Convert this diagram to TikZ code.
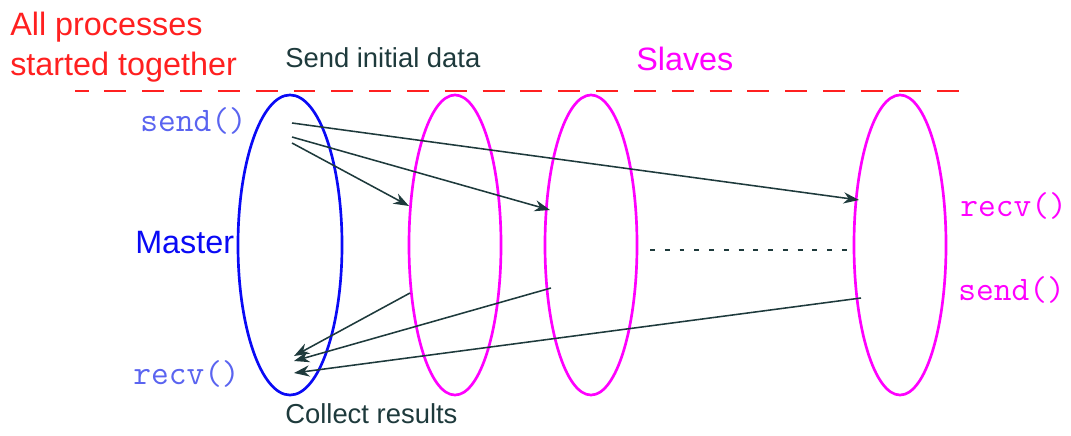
\documentclass[tikz,border=0pt]{standalone}
\usepackage{fontspec}
\setmainfont{Liberation Sans}
\usetikzlibrary{arrows.meta,positioning,shapes.geometric}
\definecolor{Ink}{HTML}{1E3A3C}
\definecolor{Rouge}{HTML}{FF2020}
\definecolor{Pink}{HTML}{FF00FF}
\definecolor{Blu}{HTML}{0A0AF5}
\definecolor{Sky}{HTML}{5A64F0}
\tikzset{
  proc/.style={ellipse, draw=#1, line width=1.9pt, minimum width=2.3cm,
    minimum height=7.5cm, inner sep=0pt},
  proc/.default={Pink},
  msgarr/.style={-{Stealth[length=11pt,width=8pt]}, line width=1.1pt, color=Ink},
  fncall/.style={font=\ttfamily\fontsize{24.5}{26}\selectfont, text=#1, inner sep=0pt, anchor=west},
}

\begin{document}
\begin{tikzpicture}[x=0.025cm, y=-0.025cm,
  lbl/.style={font=\fontsize{19.5}{22}\selectfont, text=Ink, inner sep=0pt, anchor=west},
  big/.style={font=\fontsize{23}{26}\selectfont, inner sep=0pt, anchor=west, align=left},
]
  \useasboundingbox (0,0) rectangle (1071,435);

  % separator: all processes start here
  \draw[Rouge, line width=2pt, dash pattern=on 15.6pt off 11.3pt, dash phase=6pt]
    (75,91) -- (964,91);

  % processes
  \node[proc=Blu, minimum width=2.6cm] (master) at (290,245) {};
  \node[proc] (slaveA) at (455,245) {};
  \node[proc] (slaveB) at (591,245) {};
  \node[proc] (slaveC) at (900,245) {};

  % labels
  \node[big, text=Rouge] (started) at (10,47) {All processes\\[2pt]started together};
  \node[lbl] (sendinit) at (285,58) {Send initial data};
  \node[big, text=Pink] (slaves) at (636,59) {Slaves};
  \node[big, text=Blu] (mlabel) at (135,243) {Master};
  \node[lbl] (collect) at (285,414) {Collect results};

  \node[fncall=Sky] (msend) at (140,121) {send()};
  \node[fncall=Sky] (mrecv) at (133,374) {recv()};
  \node[fncall=Pink] (srecv) at (960,206) {recv()};
  \node[fncall=Pink] (ssend) at (958,290) {send()};

  % message end points
  \coordinate (out1) at (292,123);
  \coordinate (out2) at (292,137);
  \coordinate (out3) at (292,143);
  \coordinate (inA) at (409,206);
  \coordinate (inB) at (550,210);
  \coordinate (inC) at (859,200);
  \coordinate (retA) at (410,293);
  \coordinate (retB) at (551,288);
  \coordinate (retC) at (861,298);
  \coordinate (back1) at (294,356);
  \coordinate (back2) at (294,361);
  \coordinate (back3) at (294,373);
  \coordinate (gapL) at (650,250);
  \coordinate (gapR) at (850,250);

  \draw[msgarr] (out3) -- (inA);
  \draw[msgarr] (out2) -- (inB);
  \draw[msgarr] (out1) -- (inC);
  \draw[msgarr] (retA) -- (back1);
  \draw[msgarr] (retB) -- (back2);
  \draw[msgarr] (retC) -- (back3);

  \draw[Ink, line width=0.9pt, dash pattern=on 3.5pt off 7pt] (gapL) -- (gapR);
\end{tikzpicture}
\end{document}
